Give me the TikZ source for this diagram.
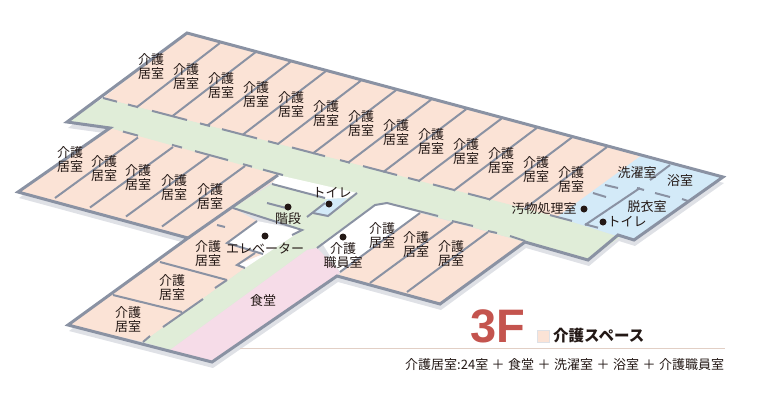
\documentclass[tikz,border=0pt]{standalone}
\usepackage{fontspec}
\setmainfont{Liberation Sans}
\newfontfamily\cjk{Noto Sans CJK JP}
\definecolor{wallc}{HTML}{8A92A3}
\definecolor{peach}{HTML}{FBE3D6}
\definecolor{hallc}{HTML}{E0EDD8}
\definecolor{bathc}{HTML}{D3EAF8}
\definecolor{dinec}{HTML}{F6DCE8}
\definecolor{shadec}{HTML}{DFE1E6}
\definecolor{inkc}{HTML}{231815}
\definecolor{floorc}{HTML}{C4544E}
\newcommand{\plusgap}{\hspace{3.5pt}＋\hspace{3.5pt}}
\tikzset{
	wall/.style={draw=wallc, line width=3pt},
	inwall/.style={draw=wallc, line width=2pt},
	room/.style={inner sep=0pt, align=center, text=inkc, font=\cjk\fontsize{13}{14}\selectfont},
	spot/.style={circle, fill=inkc, inner sep=0pt, minimum size=7pt},
}
\begin{document}
\begin{tikzpicture}[x=1pt,y=-1pt]
	\useasboundingbox (0,0) rectangle (759,402);

	% shadow
	\fill[shadec] (188,39) -- (724,183) -- (635,246) -- (619,241) -- (589,266) -- (526,248) -- (441,310) -- (338,282) -- (213,368) -- (69,331) -- (189,244) -- (19,198) -- (111,134) -- (68,128) -- cycle;

	% floor areas
	\fill[peach] (187,33) -- (642,155) -- (559,218) -- (103,98) -- cycle;
	\fill[peach] (110,128) -- (283,175) -- (188,238) -- (18,192) -- cycle;
	\fill[peach] (188,238) -- (233,208) -- (257,221) -- (227,243) -- (263,254) -- (237,265) -- (245,268) -- (143,342) -- (68,325) -- cycle;
	\fill[peach] (420,213) -- (525,242) -- (440,304) -- (337,276) -- cycle;
	\fill[hallc] (67,122) -- (103,98) -- (557,217) -- (620,237) -- (588,260) -- (525,242) -- (387,203) -- (375,205) -- (317,248) -- (307,250) -- (170,350) -- (143,342) -- (245,268) -- (302,230) -- (233,208) -- (272,184) -- (278,175) -- (110,128) -- cycle;
	\fill[bathc] (642,155) -- (723,177) -- (634,240) -- (620,237) -- (557,217) -- cycle;
	\fill[dinec] (170,350) -- (307,250) -- (317,248) -- (340,272) -- (337,276) -- (212,362) -- cycle;
	\fill[white] (278,175) -- (272,184) -- (327,199) -- (347,198) -- (357,193) -- cycle;
	\fill[bathc] (327,199) -- (347,198) -- (328,217) -- (313,213) -- cycle;
	\fill[white] (257,221) -- (302,230) -- (245,268) -- (237,265) -- (263,254) -- (227,243) -- cycle;
	\fill[white] (322,243) -- (375,205) -- (387,203) -- (420,213) -- (340,272) -- cycle;

	% upper wing
	\foreach \i in {0,...,11} {
		\draw[inwall] ({220+35.18*\i},{43+9.45*\i}) -- ({137+35.18*\i},{107+9.29*\i});
	}
	\foreach \a/\b in {103/117,128/138,152/187,200/210,222/257,268/278,292/325,340/350,363/397,408/420,433/455,468/490,550/572,585/598} {
		\draw[inwall] (\a,{98+(\a-103)*0.262}) -- (\b,{98+(\b-103)*0.262});
	}

	% lower left wing
	\foreach \x/\y in {138/137.5,173/147,209/156,245/166} {
		\draw[inwall] (\x,\y) -- ({\x-83},{\y+60.5});
	}
	\foreach \a/\b in {123/138,172/182,195/228,243/252,263/283} {
		\draw[inwall] (\a,{128+(\a-110)*0.272}) -- (\b,{128+(\b-110)*0.272});
	}
	\draw[wall] (278,175) -- (188,238);

	% rooms by the dining room
	\draw[inwall] (113,295) -- (182,312);
	\draw[inwall] (160,262) -- (227,280);
	\draw[inwall] (143,342) -- (150,336);
	\draw[inwall] (163,327) -- (203,299);
	\draw[inwall] (215,288) -- (227,280);
	\draw[inwall] (233,208) -- (302,230) -- (292,235);
	\draw[inwall] (217,225) -- (225,227);
	\draw[inwall] (257,221) -- (227,243) -- (263,254);
	\draw[inwall] (255,253) -- (237,265) -- (245,268);

	% middle block
	\draw[inwall] (272,184) -- (325,198);
	\draw[inwall] (357,193) -- (328,216) -- (313,213);
	\draw[inwall] (307,217) -- (325,203);
	\draw[inwall] (267,203) -- (290,209);
	\draw[inwall] (317,248) -- (375,205) -- (387,203) -- (438,216);
	\draw[inwall] (420,213) -- (340,272);

	% lower right wing
	\draw[inwall] (453,222) -- (370,283);
	\draw[inwall] (488,232) -- (407,292);
	\draw[inwall] (452,221) -- (473,226);
	\draw[inwall] (488,231) -- (497,233);
	\draw[inwall] (510,236) -- (525,241);

	% bath rooms
	\draw[inwall] (670,165) -- (650,180);
	\draw[inwall] (640,188) -- (585,225);
	\foreach \a/\b/\c/\d in {605/185/618/188,593/193/606/197,655/193/670/197,682/199/688/201,637/188/644/190} {
		\draw[inwall] (\a,\b) -- (\c,\d);
	}

	% outline
	\draw[wall] (187,33) -- (723,177) -- (634,240) -- (618,235) -- (588,260) -- (525,242) -- (440,304) -- (337,276) -- (212,362) -- (68,325) -- (188,238) -- (18,192) -- (110,128) -- (67,122) -- cycle;

	% room labels
	\foreach \i in {0,...,12} {
		\node[room] (upper\i) at ({151+35*\i},{67+9.35*\i}) {介護\\居室};
	}
	\foreach \i/\x/\y in {1/70/160,2/104/169,3/138/178,4/174/188,5/210/197,6/208/254,7/172/288,8/128/320,9/382/236,10/416/245,11/451/254} {
		\node[room] (lower\i) at (\x,\y) {介護\\居室};
	}
	\node[room] (staff) at (343,256) {介護\\職員室};
	\node[room] (dining) at (263,301) {食堂};
	\node[room] (stairs) at (288,219) {階段};
	\node[room] (wc1) at (332,193) {トイレ};
	\node[room] (lift) at (265,248) {エレベーター};
	\node[room] (dirty) at (544,209) {汚物処理室};
	\node[room] (wc2) at (627,222) {トイレ};
	\node[room] (changing) at (647,207) {脱衣室};
	\node[room] (laundry) at (637,173) {洗濯室};
	\node[room] (bath) at (680,181) {浴室};

	\node[spot] (spot1) at (288,207) {};
	\node[spot] (spot2) at (329,204) {};
	\node[spot] (spot3) at (265,236) {};
	\node[spot] (spot4) at (343,237) {};
	\node[spot] (spot5) at (584,209) {};
	\node[spot] (spot6) at (603,222) {};

	% legend
	\node[inner sep=0pt, text=floorc, font=\fontsize{47}{47}\selectfont\bfseries] (floor) at (498,326) {3F};
	\node[draw=shadec, fill=peach, inner sep=0pt, minimum size=12pt] (swatch) at (543.5,336) {};
	\node[room, anchor=west, font=\cjk\fontsize{15.5}{16}\selectfont\bfseries] (spacekey) at (553,336) {介護スペース};
	\draw[draw=peach!80!gray, line width=1pt] (240,348.5) -- (725,348.5);
	\node[room, anchor=west, font=\cjk\fontsize{13}{14}\selectfont] (summary) at (405,365) {介護居室:24室\plusgap 食堂\plusgap 洗濯室\plusgap 浴室\plusgap 介護職員室};
\end{tikzpicture}
\end{document}
